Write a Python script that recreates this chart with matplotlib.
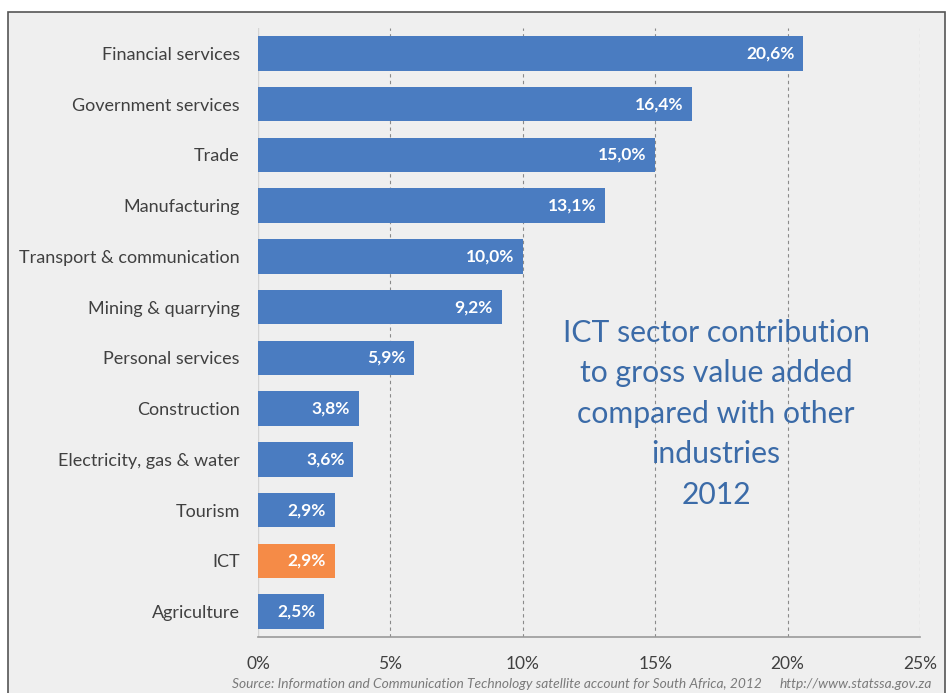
import numpy as np
import matplotlib.pyplot as plt
from matplotlib.patches import Rectangle

# Contribution to gross value added by industry, 2012 (%)
industries = [
    "Financial services", "Government services", "Trade", "Manufacturing",
    "Transport & communication", "Mining & quarrying", "Personal services",
    "Construction", "Electricity, gas & water", "Tourism", "ICT", "Agriculture",
]
shares = [20.6, 16.4, 15.0, 13.1, 10.0, 9.2, 5.9, 3.8, 3.6, 2.9, 2.9, 2.5]
highlight = "ICT"
xticks = [0, 5, 10, 15, 20, 25]

BG = "#efefef"
BLUE = "#4a7cc1"
ORANGE = "#f58b47"
TEXT = "#404040"
TITLE = "#3b6ba8"

plt.rcParams["font.family"] = ["Lato", "DejaVu Sans"]

W, H = 947, 693
fig = plt.figure(figsize=(W / 100, H / 100), dpi=100, facecolor="white")

# grey panel with a dark frame on top, left and right
fig.patches.append(Rectangle((8 / W, -0.05), (945 - 8) / W, 1.05 - 12 / H,
                             transform=fig.transFigure, facecolor=BG,
                             edgecolor="#555555", linewidth=1.2, zorder=-10))

ax = fig.add_axes([258 / W, 1 - 637 / H, (920 - 258) / W, (637 - 28) / H])
ax.set_facecolor("none")

y = np.arange(len(industries))
colors = [ORANGE if name == highlight else BLUE for name in industries]
ax.barh(y, shares, height=0.68, color=colors, zorder=3)
ax.set_ylim(len(industries) - 0.5, -0.5)
ax.set_xlim(0, 25)

for yi, v in zip(y, shares):
    ax.text(v - 0.33, yi, f"{v:.1f}%".replace(".", ","), ha="right", va="center",
            color="white", fontsize=12.5, fontweight="bold", zorder=4)

ax.set_yticks(y)
ax.set_yticklabels(industries, fontsize=13, color=TEXT)
ax.set_xticks(xticks)
ax.set_xticklabels([f"{t}%" for t in xticks], fontsize=12.5, color=TEXT)
ax.tick_params(length=0)
ax.tick_params(axis="y", pad=13)
ax.tick_params(axis="x", pad=14)

for t in xticks[1:]:
    ax.axvline(t, color="#8a8a8a", linestyle=(0, (3, 3)), linewidth=0.8, zorder=1)
ax.axvline(0, color="#d4d4d4", linewidth=1, zorder=1)

for side in ("top", "right", "left"):
    ax.spines[side].set_visible(False)
ax.spines["bottom"].set_color("#9a9a9a")
ax.spines["bottom"].set_linewidth(1.2)

ax.text(17.3, 7.1, "ICT sector contribution\nto gross value added\ncompared with other\nindustries\n2012",
        ha="center", va="center", fontsize=21.7, color=TITLE, linespacing=1.54)

fig.text(232 / W, 1 - 684 / H,
         "Source: Information and Communication Technology satellite account for South Africa, 2012",
         fontsize=9.9, style="italic", color="#7a7a7a", va="center")
fig.text(932 / W, 1 - 684 / H, "http://www.statssa.gov.za",
         fontsize=9.9, style="italic", color="#7a7a7a", va="center", ha="right")

fig.savefig("out.png", dpi=100, facecolor=fig.get_facecolor())
